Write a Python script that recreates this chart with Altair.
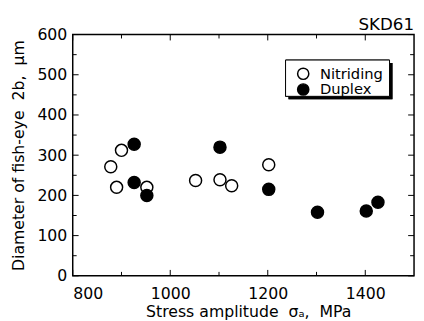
import altair as alt
import pandas as pd

# ---- data ----
nit_x = [878, 890, 900, 952, 1052, 1102, 1126, 1202]
nit_y = [271, 220, 312, 220, 237, 239, 224, 276]
dup_x = [926, 926, 952, 1102, 1202, 1302, 1402, 1426]
dup_y = [327, 232, 200, 320, 215, 158, 161, 183]
categories = ["Nitriding", "Duplex"]
x_major = [800, 1000, 1200, 1400]
x_minor = [900, 1100, 1300]
y_major = [0, 100, 200, 300, 400, 500, 600]
y_minor = [50, 150, 250, 350, 450, 550]
label_text = ["SKD61"]

df = pd.DataFrame({
    "x": nit_x + dup_x,
    "y": nit_y + dup_y,
    "series": [categories[0]] * len(nit_x) + [categories[1]] * len(dup_x),
})

W, H = 348, 246
FONT = "DejaVu Sans"
NBSP = "\u00a0"

xs = alt.Scale(domain=[800, 1500], nice=False, zero=False)
ys = alt.Scale(domain=[0, 600], nice=False, zero=False)

X_AX = alt.Axis(
    values=x_major, ticks=False, grid=False, domain=False, format="d",
    labelFontSize=16, labelPadding=10, labelFont=FONT, labelColor="black",
    title=f"Stress amplitude{NBSP}{NBSP}σₐ,{NBSP}{NBSP}MPa",
    titleFontSize=16, titleFont=FONT, titleFontWeight="normal", titleColor="black",
    titleX=W / 2 + 5, titleY=41, titleBaseline="alphabetic", titleAlign="center")
Y_AX = alt.Axis(
    values=y_major, ticks=False, grid=False, domain=False, format="d",
    labelFontSize=16, labelPadding=6, labelFont=FONT, labelColor="black",
    title=f"Diameter of fish-eye{NBSP}{NBSP}2b,{NBSP}{NBSP}μm",
    titleFontSize=16, titleFont=FONT, titleFontWeight="normal", titleColor="black",
    titleX=-55, titleY=H / 2, titleAngle=-90, titleBaseline="middle", titleAlign="center")

points = alt.Chart(df).mark_circle(size=150, stroke="black", strokeWidth=1.5, opacity=1).encode(
    x=alt.X("x:Q", scale=xs, axis=X_AX),
    y=alt.Y("y:Q", scale=ys, axis=Y_AX),
    fill=alt.Fill("series:N", scale=alt.Scale(domain=categories, range=["white", "black"]), legend=None),
)

layers = [points]


def xticks(vals, length):
    d = pd.DataFrame({"x": vals})
    b = alt.Chart(d).mark_rule(color="black", strokeWidth=1).encode(
        x=alt.X("x:Q", scale=xs, axis=X_AX), y=alt.value(H), y2=alt.value(H - length))
    t = alt.Chart(d).mark_rule(color="black", strokeWidth=1).encode(
        x=alt.X("x:Q", scale=xs, axis=X_AX), y=alt.value(0), y2=alt.value(length))
    return [b, t]


def yticks(vals, length):
    d = pd.DataFrame({"y": vals})
    l = alt.Chart(d).mark_rule(color="black", strokeWidth=1).encode(
        y=alt.Y("y:Q", scale=ys, axis=Y_AX), x=alt.value(0), x2=alt.value(length))
    r = alt.Chart(d).mark_rule(color="black", strokeWidth=1).encode(
        y=alt.Y("y:Q", scale=ys, axis=Y_AX), x=alt.value(W), x2=alt.value(W - length))
    return [l, r]


layers += xticks(x_major, 6) + xticks(x_minor, 4) + yticks(y_major, 6) + yticks(y_minor, 4)

# ---- legend box (drawn by hand, with drop shadow) ----
leg_df = pd.DataFrame({"series": categories})
shadow = alt.Chart(leg_df).mark_rect(color="black").encode(
    x=alt.value(220), x2=alt.value(326), y=alt.value(29), y2=alt.value(66))
box = alt.Chart(leg_df).mark_rect(fill="white", stroke="black", strokeWidth=1).encode(
    x=alt.value(217), x2=alt.value(323), y=alt.value(26), y2=alt.value(63))
layers += [shadow, box]
for i, cat in enumerate(categories):
    one = pd.DataFrame({"series": [cat]})
    sym = alt.Chart(one).mark_circle(size=130, stroke="black", strokeWidth=1.5, opacity=1,
                                     fill="white" if i == 0 else "black").encode(
        x=alt.value(235), y=alt.value(40 + 16 * i))
    txt = alt.Chart(one).mark_text(align="left", baseline="middle", fontSize=15, font=FONT,
                                   color="black").encode(
        x=alt.value(252), y=alt.value(40 + 16 * i), text="series:N")
    layers += [sym, txt]

# ---- material label above the top-right corner ----
title_txt = alt.Chart(pd.DataFrame({"t": label_text})).mark_text(
    align="right", baseline="alphabetic", fontSize=17, font=FONT, color="black").encode(
    x=alt.value(W), y=alt.value(-5), text="t:N")
layers.append(title_txt)

chart = alt.layer(*layers).properties(
    width=W, height=H,
    autosize=alt.AutoSizeParams(type="none"),
    padding={"left": 66, "top": 24, "right": 2, "bottom": 43},
).configure(background="white", view=alt.ViewConfig(stroke="black", strokeWidth=1.5))

chart.save("out.html", embed_options={"renderer": "svg", "actions": False})
